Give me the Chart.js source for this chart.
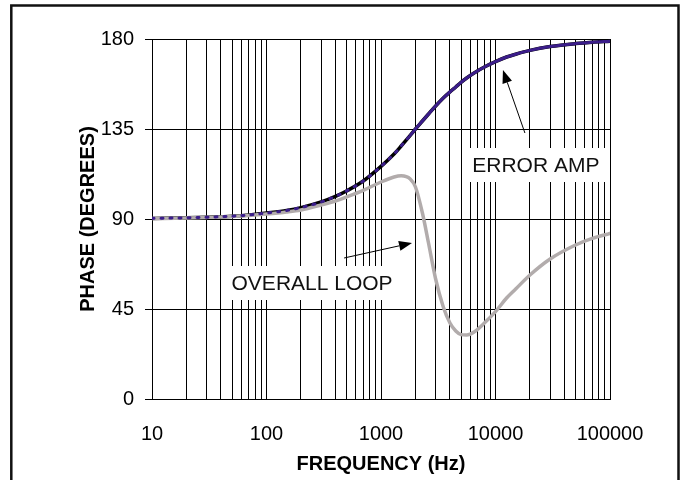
<!DOCTYPE html>
<html><head><meta charset="utf-8">
<script src="https://cdn.jsdelivr.net/npm/chart.js@4/dist/chart.umd.min.js"></script>
<style>html,body{margin:0;padding:0;background:#fff;}canvas{display:block}</style>
</head><body>
<canvas id="c" width="683" height="480"></canvas>
<script>
// ---- data ----
const frequencies      = [10, 20, 30, 50, 70, 100, 150, 200, 300, 400, 500, 700, 1000, 1300, 1500, 1800, 2000, 2300, 2600, 3000, 3500, 4000, 4500, 5000, 5600, 6500, 8000, 10000, 12500, 15000, 20000, 30000, 50000, 70000, 100000];
const errorAmpPhase    = [90.3, 90.6, 90.9, 91.4, 92.0, 93.0, 94.3, 95.7, 98.5, 101.3, 104.0, 109.0, 116.3, 122.5, 126.5, 131.8, 135.0, 139.0, 142.5, 146.5, 150.5, 153.5, 156.0, 158.3, 160.5, 163.0, 166.0, 168.7, 171.0, 172.4, 174.3, 176.2, 177.7, 178.4, 178.9];
const overallLoopPhase = [90.2, 90.5, 90.8, 91.3, 91.8, 92.5, 93.5, 94.5, 97.0, 99.0, 101.0, 104.3, 108.5, 111.0, 111.6, 110.0, 106.0, 93.0, 78.0, 60.0, 46.0, 38.0, 34.0, 32.2, 32.0, 33.5, 38.0, 43.7, 50.5, 55.0, 62.0, 70.0, 77.0, 80.3, 82.8];
const xGridValues = [10,20,30,40,50,60,70,80,90,100,200,300,400,500,600,700,800,900,1000,2000,3000,4000,5000,6000,7000,8000,9000,10000,20000,30000,40000,50000,60000,70000,80000,90000,100000];
const xTickLabels = ['10', '100', '1000', '10000', '100000'];
const yTickValues = [0, 45, 90, 135, 180];
const xAxisTitle = 'FREQUENCY (Hz)';
const yAxisTitle = 'PHASE (DEGREES)';
// annotations in data coordinates (frequency, phase)
const annotationTexts  = ['ERROR AMP', 'OVERALL LOOP'];
const annotationFreq   = [22500, 250];
const annotationPhase  = [117, 58];
const arrowFromFreq    = [18070, 476];
const arrowFromPhase   = [133, 70.5];
const arrowToFreq      = [11620, 1866];
const arrowToPhase     = [164.5, 78];

const FONT = "'Liberation Sans', Arial, Helvetica, sans-serif";
Chart.defaults.font.family = FONT;
Chart.defaults.color = '#000';

const toPts = ys => frequencies.map((f, i) => ({x: f, y: ys[i]}));

const annotPlugin = {
  id: 'annot',
  beforeDatasetsDraw(chart) {
    const {ctx, scales: {x, y}} = chart;
    ctx.save();
    ctx.font = '21px ' + FONT;
    ctx.textAlign = 'center';
    ctx.textBaseline = 'middle';
    annotationTexts.forEach((t, i) => {
      const cx = x.getPixelForValue(annotationFreq[i]);
      const cy = y.getPixelForValue(annotationPhase[i]);
      const w = ctx.measureText(t).width;
      const padX = i === 0 ? 6 : 9;
      ctx.fillStyle = '#fff';
      ctx.fillRect(cx - w / 2 - padX, cy - 17, w + 2 * padX, 34);
      ctx.fillStyle = '#111';
      ctx.fillText(t, cx, cy + 1);
    });
    // arrows
    ctx.strokeStyle = '#000';
    ctx.fillStyle = '#000';
    ctx.lineWidth = 1;
    arrowFromFreq.forEach((_, i) => {
      const x1 = x.getPixelForValue(arrowFromFreq[i]), y1 = y.getPixelForValue(arrowFromPhase[i]);
      const x2 = x.getPixelForValue(arrowToFreq[i]), y2 = y.getPixelForValue(arrowToPhase[i]);
      const a = Math.atan2(y2 - y1, x2 - x1);
      const L = 13, H = 5;
      const bx = x2 - L * Math.cos(a), by = y2 - L * Math.sin(a);
      ctx.beginPath(); ctx.moveTo(x1, y1); ctx.lineTo(bx, by); ctx.stroke();
      ctx.beginPath();
      ctx.moveTo(x2, y2);
      ctx.lineTo(bx + H * Math.sin(a), by - H * Math.cos(a));
      ctx.lineTo(bx - H * Math.sin(a), by + H * Math.cos(a));
      ctx.closePath(); ctx.fill();
    });
    ctx.restore();
  },
  afterDraw(chart) {
    const ctx = chart.ctx;
    ctx.save();
    ctx.strokeStyle = '#111';
    ctx.lineWidth = 2.5;
    ctx.strokeRect(11.3, 5.5, 667.2, 490);
    ctx.restore();
  }
};

new Chart(document.getElementById('c'), {
  type: 'line',
  data: {
    datasets: [
      {label: 'Error Amp', data: toPts(errorAmpPhase), borderColor: '#3b1d8a', borderWidth: 3,
       pointRadius: 0, cubicInterpolationMode: 'monotone', order: 1, borderCapStyle: 'round',
       segment: {borderDash: c => (c.p1.parsed.x <= 1800 ? [2, 7] : undefined)}},
      {label: 'Overall Loop', data: toPts(overallLoopPhase), borderColor: '#b2acac', borderWidth: 3.5,
       pointRadius: 0, cubicInterpolationMode: 'monotone', order: 2, borderCapStyle: 'round'},
      {label: 'Error Amp (under)', data: toPts(errorAmpPhase), borderColor: '#000', borderWidth: 3.5,
       pointRadius: 0, cubicInterpolationMode: 'monotone', order: 3, borderCapStyle: 'round'}
    ]
  },
  options: {
    responsive: false,
    devicePixelRatio: 1,
    animation: false,
    events: [],
    layout: {padding: {left: 0, top: 39, right: 73, bottom: 0}},
    plugins: {legend: {display: false}, tooltip: {enabled: false}},
    scales: {
      x: {
        type: 'logarithmic', min: 10, max: 100000,
        afterBuildTicks: s => { s.ticks = xGridValues.map(v => ({value: v})); },
        afterFit: s => { s.height = 81; },
        ticks: {
          autoSkip: false, maxRotation: 0, minRotation: 0, padding: 23,
          font: {size: 20}, color: '#000',
          callback: v => { const k = xTickLabels.findIndex(l => Number(l) === v); return k >= 0 ? xTickLabels[k] : ''; }
        },
        grid: {color: '#000', lineWidth: 1, drawTicks: false},
        border: {color: '#000', width: 1},
        title: {display: true, text: xAxisTitle, color: '#000', font: {size: 20, weight: 'bold', lineHeight: 1}, padding: {top: 0, bottom: 6}}
      },
      y: {
        min: 0, max: 180,
        afterBuildTicks: s => { s.ticks = yTickValues.map(v => ({value: v})); },
        afterFit: s => { s.width = 152; },
        ticks: {padding: 11, font: {size: 20}, color: '#000'},
        grid: {color: '#000', lineWidth: 1, tickLength: 7},
        border: {color: '#000', width: 1},
        title: {display: true, text: yAxisTitle, color: '#000', font: {size: 20, weight: 'bold', lineHeight: 1}, padding: {top: 78, bottom: 0}}
      }
    }
  },
  plugins: [annotPlugin]
});
</script>
</body></html>
